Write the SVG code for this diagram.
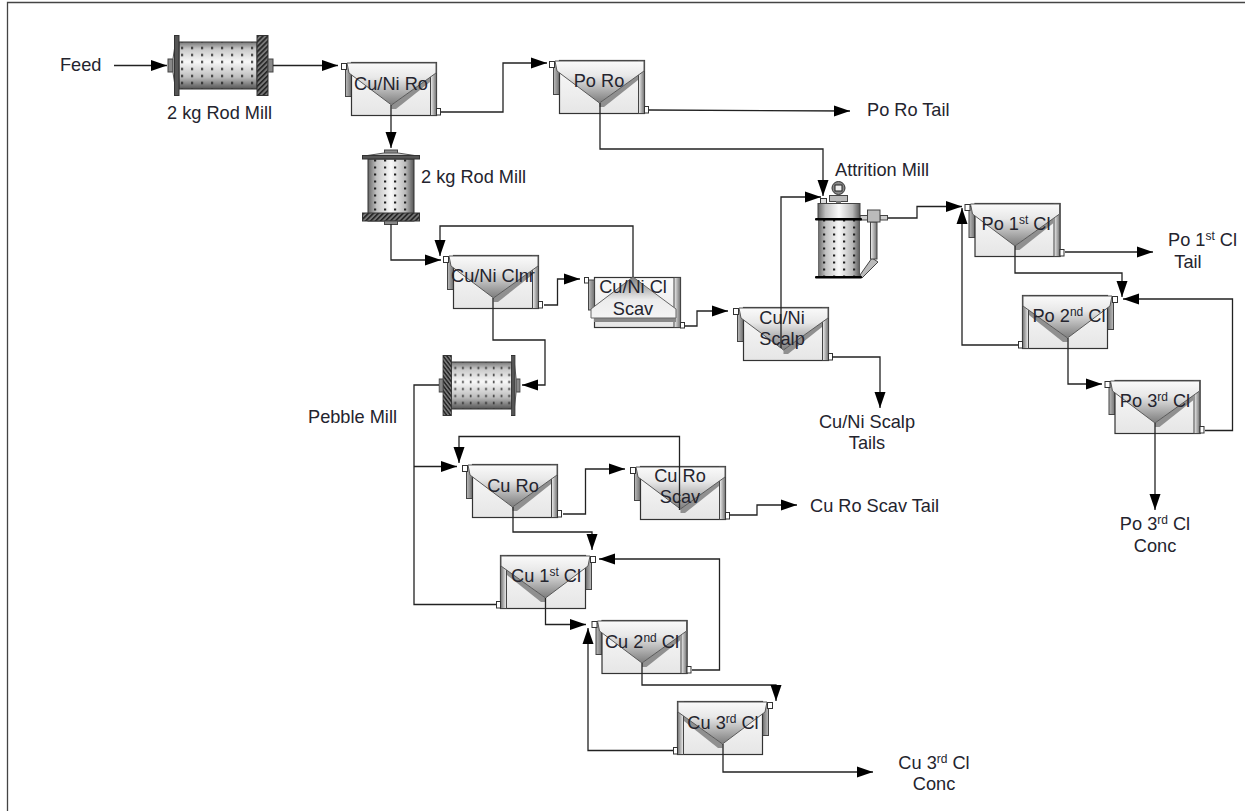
<svg xmlns="http://www.w3.org/2000/svg" width="1245" height="811" viewBox="0 0 1245 811">
<style>
text{font-family:"Liberation Sans",Arial,sans-serif;font-size:18.2px;fill:#24242e}
.m{text-anchor:middle}
.sup{font-size:12px}
#connectors path{fill:none;stroke:#222;stroke-width:1.3}
.arr{marker-end:url(#ah)}
</style>
<defs>
<marker id="ah" markerUnits="userSpaceOnUse" markerWidth="17" markerHeight="13" refX="16" refY="6.5" orient="auto"><path d="M0,1L16,6.5L0,12Z" fill="#000"/></marker>
<linearGradient id="gBody" x1="0" y1="0" x2="0" y2="1"><stop offset="0" stop-color="#fafafa"/><stop offset="1" stop-color="#e6e6e6"/></linearGradient>
<linearGradient id="gTrough" x1="0" y1="0" x2="0" y2="1"><stop offset="0" stop-color="#fafafa"/><stop offset=".35" stop-color="#e8e8e8"/><stop offset="1" stop-color="#7c7c7c"/></linearGradient>
<linearGradient id="gScav" x1="0" y1="1" x2="0" y2="0"><stop offset="0" stop-color="#f4f4f4"/><stop offset=".45" stop-color="#ececec"/><stop offset="1" stop-color="#808080"/></linearGradient>
<linearGradient id="gCol" x1="0" y1="0" x2="1" y2="0"><stop offset="0" stop-color="#f2f2f2"/><stop offset="1" stop-color="#707070"/></linearGradient>
<linearGradient id="gBack" x1="0" y1="0" x2="1" y2="0"><stop offset="0" stop-color="#bcbcbc"/><stop offset="1" stop-color="#707070"/></linearGradient>
<linearGradient id="gDrumH" x1="0" y1="0" x2="0" y2="1"><stop offset="0" stop-color="#777"/><stop offset=".15" stop-color="#c8c8c8"/><stop offset=".42" stop-color="#f8f8f8"/><stop offset=".75" stop-color="#bdbdbd"/><stop offset="1" stop-color="#555"/></linearGradient>
<linearGradient id="gDrumV" x1="0" y1="0" x2="1" y2="0"><stop offset="0" stop-color="#666"/><stop offset=".18" stop-color="#c0c0c0"/><stop offset=".5" stop-color="#fafafa"/><stop offset=".82" stop-color="#b8b8b8"/><stop offset="1" stop-color="#555"/></linearGradient>
<pattern id="dots" patternUnits="userSpaceOnUse" width="10" height="7"><rect x="3" y="2.5" width="2.2" height="2" fill="#222"/></pattern>
<pattern id="hatch" patternUnits="userSpaceOnUse" width="3.5" height="3.5" patternTransform="rotate(45)"><rect width="3.5" height="3.5" fill="#777"/><rect width="1.6" height="3.5" fill="#222"/></pattern>
<g id="cell">
<rect x="4.5" y="3.5" width="6" height="31" fill="url(#gBack)" stroke="#444"/>
<rect x="10.5" y=".5" width="85" height="53" fill="url(#gBody)" stroke="#333" stroke-width="1.2"/>
<rect x="89.5" y=".5" width="6" height="53" fill="url(#gCol)" stroke="#444"/>
<path d="M50.5,43L89,15V20L55,47L50.5,47Z" fill="#909090"/>
<path d="M6,1H95V11L50.5,43L8,11Z" fill="url(#gTrough)" stroke="#5a5a5a"/>
<rect x=".5" y="1.5" width="5" height="6" fill="#fff" stroke="#333"/>
<rect x="95.5" y="46.5" width="4" height="6.5" fill="#fff" stroke="#333"/>
</g>
<g id="mill">
<rect x="0" y="-6.5" width="5" height="13" fill="#888" stroke="#444"/>
<path d="M5,-7L8,-27V27L5,7Z" fill="#ccc" stroke="#555"/>
<rect x="11" y="-23.5" width="78" height="47" fill="url(#gDrumH)" stroke="#333"/>
<rect x="11" y="-23.5" width="78" height="47" fill="url(#dots)"/>
<rect x="6.5" y="-30" width="4.5" height="60" fill="#555" stroke="#333"/>
<rect x="89" y="-30" width="11" height="60" fill="url(#hatch)" stroke="#333"/>
<rect x="100" y="-6.5" width="5" height="13" fill="#888" stroke="#444"/>
</g>
<g id="millV">
<rect x="-6.5" y="0" width="13" height="4" fill="#888" stroke="#444"/>
<path d="M-7,3L-27,6H27L7,3Z" fill="#ccc" stroke="#555"/>
<rect x="-23" y="9" width="46" height="62" fill="url(#gDrumV)" stroke="#333"/>
<rect x="-23" y="9" width="46" height="62" fill="url(#dots)"/>
<rect x="-28.5" y="5.5" width="57" height="3.5" fill="#555" stroke="#333"/>
<rect x="-28.5" y="63" width="57" height="8" fill="url(#hatch)" stroke="#333"/>
<rect x="-6.5" y="71" width="13" height="3.5" fill="#888" stroke="#444"/>
</g>
</defs>
<path d="M7.5,811V2.5H1245" fill="none" stroke="#444" stroke-width="1.3"/>

<g id="label-feed"><text x="60" y="71">Feed</text></g>

<g id="rod-mill-1"><use href="#mill" transform="translate(168,65.5)"/><text x="167" y="119">2 kg Rod Mill</text></g>
<g id="rod-mill-2"><use href="#millV" transform="translate(391,150)"/><text x="421" y="183">2 kg Rod Mill</text></g>
<g id="pebble-mill"><use href="#mill" transform="translate(520,385.5) scale(-.77,1)"/><text x="308" y="423">Pebble Mill</text></g>

<g id="attrition-mill">
<path d="M838.5,194V190" stroke="#444" stroke-width="3"/>
<circle cx="838.5" cy="188" r="6.5" fill="#888" stroke="#333"/>
<rect x="835" y="185" width="7" height="6" fill="#eee" stroke="#222"/>
<rect x="829.5" y="195.5" width="18" height="6" fill="#bbb" stroke="#444"/>
<rect x="836" y="201" width="5" height="3" fill="#777"/>
<rect x="820.5" y="198.5" width="6" height="5" fill="#ddd" stroke="#333"/>
<path d="M860,275L872,258L878,262L862,278Z" fill="#bbb" stroke="#444"/>
<rect x="870.5" y="222" width="6.5" height="37" fill="url(#gCol)" stroke="#444"/>
<rect x="860" y="215.5" width="8" height="4.5" fill="#ccc" stroke="#444"/>
<rect x="880" y="215.5" width="7.5" height="4.5" fill="#ccc" stroke="#444"/>
<rect x="867.5" y="210" width="12.5" height="12" fill="#bbb" stroke="#444"/>
<rect x="818" y="220" width="42" height="57" fill="url(#gDrumV)"/>
<rect x="818" y="220" width="42" height="57" fill="url(#dots)"/>
<rect x="818" y="203.5" width="42" height="15" fill="url(#gDrumV)" stroke="#444"/>
<rect x="815" y="218" width="47" height="2.5" rx="1" fill="#000"/>
<rect x="815" y="276" width="47" height="2.5" rx="1" fill="#000"/>
<text x="835" y="176">Attrition Mill</text>
</g>

<g id="cu-ni-ro"><use href="#cell" transform="translate(341,62)"/><text class="m" x="391" y="90">Cu/Ni Ro</text></g>
<g id="po-ro"><use href="#cell" transform="translate(549,60)"/><text class="m" x="599" y="87">Po Ro</text></g>
<g id="cu-ni-clnr"><use href="#cell" transform="translate(443,255)"/><text class="m" x="493" y="282">Cu/Ni Clnr</text></g>
<g id="cu-ni-cl-scav">
<rect x="594.5" y="277.5" width="86" height="50" fill="url(#gBody)" stroke="#333" stroke-width="1.2"/>
<rect x="588.5" y="280" width="6" height="30" fill="url(#gBack)" stroke="#444"/>
<rect x="674" y="277.5" width="6.5" height="50" fill="url(#gCol)" stroke="#444"/>
<rect x="594" y="318" width="82" height="4" fill="#888"/>
<path d="M591,309L633,277L676,309V318H591Z" fill="url(#gScav)" stroke="#666"/>
<rect x="584.5" y="277.5" width="4" height="5.5" fill="#fff" stroke="#333"/>
<rect x="680.5" y="322.5" width="4" height="5.5" fill="#fff" stroke="#333"/>
<text class="m" x="633" y="293">Cu/Ni Cl</text><text class="m" x="633" y="315">Scav</text>
</g>
<g id="cu-ni-scalp"><use href="#cell" transform="translate(733,307)"/><text class="m" x="782" y="324">Cu/Ni</text><text class="m" x="782" y="345">Scalp</text></g>
<g id="po-1st-cl"><use href="#cell" transform="translate(964.5,203)"/><text class="m" x="1016" y="230">Po 1<tspan class="sup" dy="-6">st</tspan><tspan dy="6"> Cl</tspan></text></g>
<g id="po-2nd-cl"><use href="#cell" transform="translate(1118,295) scale(-1,1)"/><text class="m" x="1069" y="322">Po 2<tspan class="sup" dy="-6">nd</tspan><tspan dy="6"> Cl</tspan></text></g>
<g id="po-3rd-cl"><use href="#cell" transform="translate(1104.5,380)"/><text class="m" x="1155" y="407">Po 3<tspan class="sup" dy="-6">rd</tspan><tspan dy="6"> Cl</tspan></text></g>
<g id="cu-ro"><use href="#cell" transform="translate(462,464)"/><text class="m" x="513" y="492">Cu Ro</text></g>
<g id="cu-ro-scav"><use href="#cell" transform="translate(630,466)"/><text class="m" x="680" y="482">Cu Ro</text><text class="m" x="680" y="503">Scav</text></g>
<g id="cu-1st-cl"><use href="#cell" transform="translate(596,555) scale(-1,1)"/><text class="m" x="546" y="582">Cu 1<tspan class="sup" dy="-6">st</tspan><tspan dy="6"> Cl</tspan></text></g>
<g id="cu-2nd-cl"><use href="#cell" transform="translate(591.5,620)"/><text class="m" x="642" y="648">Cu 2<tspan class="sup" dy="-6">nd</tspan><tspan dy="6"> Cl</tspan></text></g>
<g id="cu-3rd-cl"><use href="#cell" transform="translate(773,701) scale(-1,1)"/><text class="m" x="723" y="729">Cu 3<tspan class="sup" dy="-6">rd</tspan><tspan dy="6"> Cl</tspan></text></g>

<g id="label-po-ro-tail"><text x="867" y="116">Po Ro Tail</text></g>
<g id="label-po-1st-tail"><text x="1168" y="246">Po 1<tspan class="sup" dy="-6">st</tspan><tspan dy="6"> Cl</tspan></text><text class="m" x="1188" y="268">Tail</text></g>
<g id="label-scalp-tails"><text class="m" x="867" y="428">Cu/Ni Scalp</text><text class="m" x="867" y="449">Tails</text></g>
<g id="label-cu-ro-scav-tail"><text x="810" y="512">Cu Ro Scav Tail</text></g>
<g id="label-po-3rd-conc"><text class="m" x="1155" y="530">Po 3<tspan class="sup" dy="-6">rd</tspan><tspan dy="6"> Cl</tspan></text><text class="m" x="1155" y="552">Conc</text></g>
<g id="label-cu-3rd-conc"><text class="m" x="934" y="769">Cu 3<tspan class="sup" dy="-6">rd</tspan><tspan dy="6"> Cl</tspan></text><text class="m" x="934" y="790">Conc</text></g>

<g id="connectors">
<path class="arr" d="M114,65.5H167"/>
<path class="arr" d="M273,65.5H338"/>
<path class="arr" d="M441,112H503V63H547"/>
<path class="arr" d="M391,105V148"/>
<path class="arr" d="M649,110L850,111"/>
<path class="arr" d="M600,103V149H823V196"/>
<path class="arr" d="M781,348V197H821"/>
<path class="arr" d="M888,218H917V206.5H962"/>
<path class="arr" d="M1065,252H1153"/>
<path class="arr" d="M1015,246V273H1122V297"/>
<path class="arr" d="M1018,345H962V208"/>
<path class="arr" d="M1068,338V384H1102"/>
<path class="arr" d="M1205,430.5H1232.5V299H1123"/>
<path class="arr" d="M1155,423V510"/>
<path class="arr" d="M391,224V260H441"/>
<path class="arr" d="M633,277V226H440V256"/>
<path class="arr" d="M544,305H557.5V279H580"/>
<path class="arr" d="M685,326H697V311H728"/>
<path class="arr" d="M832,357H880V408"/>
<path class="arr" d="M493,298V340H545V385H522"/>
<path d="M439,385H414V604.5H496"/>
<path class="arr" d="M414,466.5H457"/>
<path class="arr" d="M563,514H585.5V469H625"/>
<path class="arr" d="M679.5,510V436.5H459V463"/>
<path class="arr" d="M729,515H757V505H797"/>
<path class="arr" d="M513,507V532H592V550"/>
<path class="arr" d="M692,670H719.5V559H599"/>
<path class="arr" d="M545.5,598V624.5H586"/>
<path class="arr" d="M642,663V685H776V701"/>
<path class="arr" d="M673,750.5H588V628"/>
<path class="arr" d="M723,744V772H873"/>
</g>
</svg>
